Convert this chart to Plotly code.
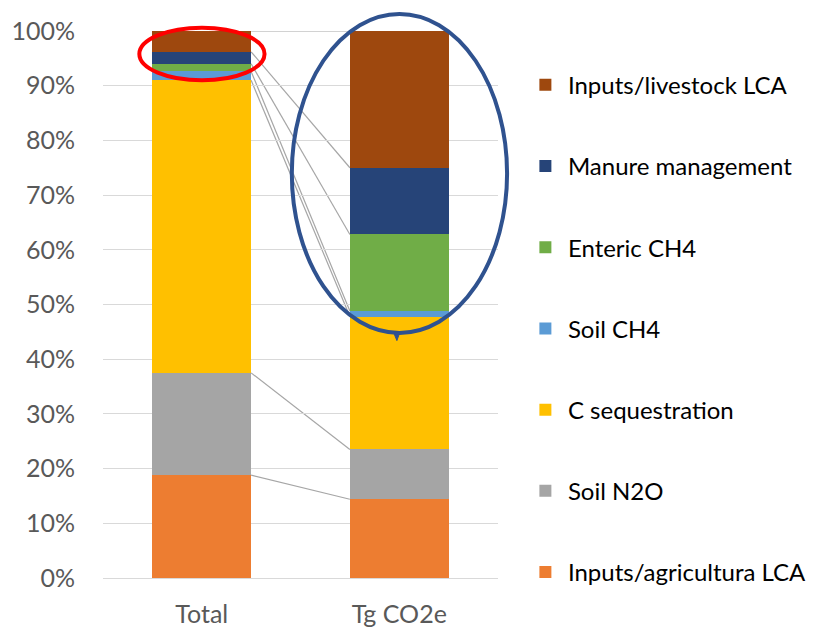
import plotly.graph_objects as go

categories = ["Total", "Tg CO2e"]
series_names = ["Inputs/agricultura LCA", "Soil N2O", "C sequestration", "Soil CH4",
                "Enteric CH4", "Manure management", "Inputs/livestock LCA"]
total_vals = [18.8, 18.7, 53.5, 1.6, 1.4, 2.2, 3.8]
tg_vals = [14.4, 9.1, 24.3, 1.0, 14.0, 12.2, 25.0]
colors = ["#ED7D31", "#A5A5A5", "#FFC000", "#5B9BD5", "#70AD47", "#264478", "#9E480E"]
tick_vals = [0, 10, 20, 30, 40, 50, 60, 70, 80, 90, 100]
tick_text = [f"{v}%" for v in tick_vals]

FONT = "Lato"
n = len(series_names)
fig = go.Figure()
for i, name in enumerate(series_names):
    fig.add_trace(go.Bar(
        x=categories, y=[total_vals[i], tg_vals[i]], name=name,
        marker=dict(color=colors[i], line=dict(width=0)),
        width=0.5, legendgroup=name, legendrank=1000 - i,
    ))

# series connector lines
c1, c2 = 0, 0
shapes = []
for i in range(n):
    c1 += total_vals[i]
    c2 += tg_vals[i]
    shapes.append(dict(type="line", xref="x", yref="y", x0=0.25, x1=0.75, y0=c1, y1=c2,
                       line=dict(color="#A6A6A6", width=1.2), layer="below"))

# highlight ellipses
shapes.append(dict(type="circle", xref="paper", yref="paper",
                   x0=0.092, x1=0.409, y0=0.910, y1=1.006,
                   line=dict(color="#FF0000", width=4)))
shapes.append(dict(type="circle", xref="paper", yref="paper",
                   x0=0.478, x1=1.023, y0=0.448, y1=1.031,
                   line=dict(color="#2F528F", width=4)))
shapes.append(dict(type="path", xref="paper", yref="paper",
                   path="M 0.735 0.450 L 0.744 0.434 L 0.752 0.450 Z",
                   fillcolor="#2F528F", line=dict(color="#2F528F", width=1)))

fig.update_layout(
    barmode="stack",
    width=828, height=629,
    margin=dict(l=95, r=338, t=23, b=59, autoexpand=False),
    plot_bgcolor="white", paper_bgcolor="white",
    font=dict(family=FONT, color="#595959"),
    shapes=shapes,
    xaxis=dict(range=[-0.5, 1.5], showgrid=False, showline=False, ticks="",
               ticklabelstandoff=19,
               tickfont=dict(size=25, color="#595959")),
    yaxis=dict(range=[0, 100], tickvals=tick_vals, ticktext=tick_text,
               showgrid=True, gridcolor="#D9D9D9", gridwidth=1,
               zeroline=True, zerolinecolor="#D9D9D9", zerolinewidth=1,
               showline=False, ticks="", ticklabelstandoff=27,
               tickfont=dict(size=25, color="#595959")),
    legend=dict(x=1.063, y=0.942, xanchor="left", yanchor="top",
                traceorder="grouped", tracegroupgap=47,
                font=dict(size=24, color="#000000", family=FONT),
                bgcolor="rgba(0,0,0,0)", itemwidth=35),
    showlegend=True,
)

fig.write_html("out.html")
